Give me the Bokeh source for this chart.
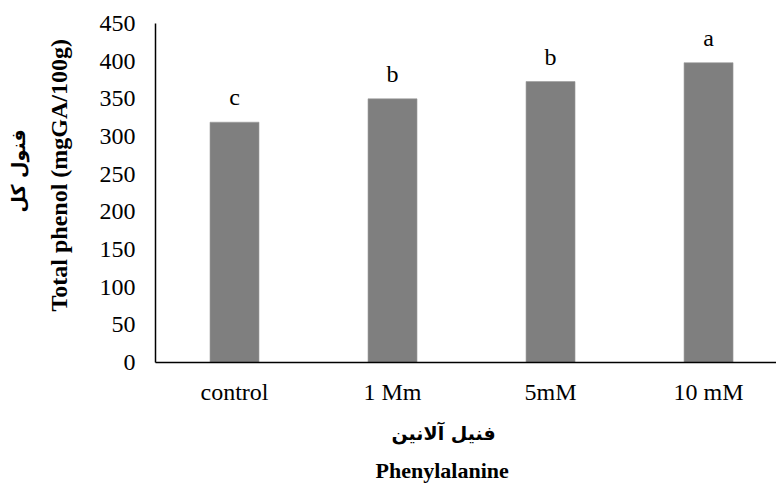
from bokeh.plotting import figure
from bokeh.models import Title, FixedTicker, Range1d
from bokeh.core.properties import value
from bokeh.embed import file_html
from bokeh.resources import INLINE

categories = ["control", "1 Mm", "5mM", "10 mM"]
total_phenol = [319, 350, 373, 398]
letters = ["c", "b", "b", "a"]
y_ticks = [0, 50, 100, 150, 200, 250, 300, 350, 400, 450]

SERIF = "Liberation Serif"
xs = list(range(len(categories)))
W, H = 776, 483

p = figure(width=W, height=H, output_backend="svg", toolbar_location=None,
           x_range=Range1d(-0.5, 3.43), y_range=Range1d(0, 450),
           min_border_left=155, min_border_right=0, min_border_top=23,
           min_border_bottom=121, frame_width=621, frame_height=339)
p.outline_line_color = None
p.grid.visible = False
p.background_fill_color = "white"
p.border_fill_color = "white"

p.vbar(x=xs, top=total_phenol, width=0.31, bottom=0,
       fill_color="#7f7f7f", line_color="#9a9a9a", line_width=0.6)

p.text(x=xs, y=total_phenol, text=letters, y_offset=-25,
       text_align="center", text_baseline="alphabetic",
       text_font=value(SERIF), text_font_size="24px", text_color="black")

# axes
p.xaxis.ticker = FixedTicker(ticks=xs)
p.xaxis.major_label_overrides = {i: c for i, c in enumerate(categories)}
p.yaxis.ticker = FixedTicker(ticks=y_ticks)
for ax in (p.xaxis[0], p.yaxis[0]):
    ax.major_tick_line_color = None
    ax.minor_tick_line_color = None
    ax.axis_line_color = "black"
    ax.axis_line_width = 1.5
    ax.major_label_text_font = SERIF
    ax.major_label_text_font_size = "24px"
    ax.major_label_text_color = "black"
p.xaxis.major_label_standoff = 10
p.yaxis.major_label_standoff = 14

# axis titles
p.add_layout(Title(text="Total phenol (mgGA/100g)", align="left", offset=51,
                   standoff=50, text_font=SERIF, text_font_style="bold",
                   text_font_size="24px", text_color="black"), "left")
p.add_layout(Title(text="فنول کل", align="left", offset=150,
                   standoff=-20, text_font="DejaVu Sans", text_font_style="bold",
                   text_font_size="19px", text_color="black"), "left")
p.add_layout(Title(text="فنیل آلانین", align="left", offset=236,
                   standoff=24, text_font="DejaVu Sans", text_font_style="bold",
                   text_font_size="19px", text_color="black"), "below")
p.add_layout(Title(text="Phenylalanine", align="left", offset=220,
                   standoff=0, text_font=SERIF, text_font_style="bold",
                   text_font_size="22px", text_color="black"), "below")

open("out.html", "w").write(file_html(p, INLINE))
